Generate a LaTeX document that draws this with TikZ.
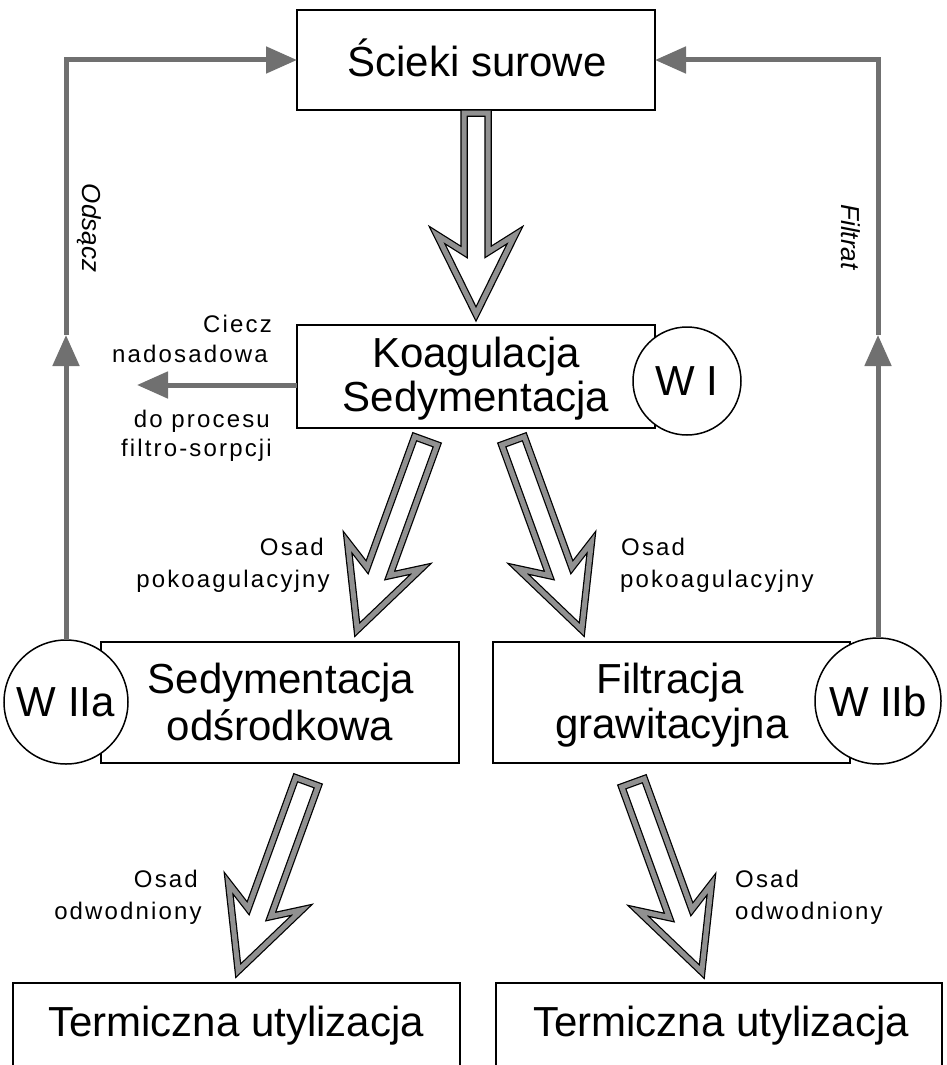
\documentclass[tikz,border=0pt]{standalone}
\usepackage{fontspec}
\setmainfont{Liberation Sans}
\newfontfamily\lblfont[LetterSpace=9]{Liberation Sans}
\usetikzlibrary{arrows.meta,calc}
\definecolor{lngray}{RGB}{112,112,112}
\definecolor{bandgray}{RGB}{145,145,145}
\begin{document}
\begin{tikzpicture}[x=1pt,y=-1pt,
  box/.style={draw=black, line width=1.8pt, fill=white, inner sep=0pt, outer sep=0pt},
  circ/.style={circle, draw=black, line width=1.5pt, fill=white, inner sep=0pt, outer sep=0pt, font=\fontsize{42}{45}\selectfont},
  big/.style={font=\fontsize{42}{45}\selectfont, inner sep=0pt},
  lbl/.style={font=\lblfont\fontsize{24}{28}\selectfont, inner sep=0pt},
  side/.style={font=\itshape\fontsize{26}{30}\selectfont, inner sep=0pt, rotate=-90},
  fb/.style={draw=lngray, line width=5pt, -{Triangle[length=31pt,width=26pt]}},
  harrow/.pic={
    \path[draw=black, line width=7.5pt, fill=white, line join=miter]
      (-12,3) -- (-12,142) -- (-39,125) -- (0,204) -- (39,125) -- (12,142) -- (12,3) -- cycle;
    \path[draw=bandgray, line width=5pt, line join=miter]
      (-12,3) -- (-12,142) -- (-39,125) -- (0,204) -- (39,125) -- (12,142) -- (12,3) -- cycle;
  }
]
\useasboundingbox (0,0) rectangle (946,1065);
\clip (0,0) rectangle (946,1065);
\fill[white] (0,0) rectangle (946,1065);

% boxes
\node[box, minimum width=358pt, minimum height=100pt] (top) at (476,60) {};
\node[box, minimum width=358pt, minimum height=103pt] (koag) at (476,376.5) {};
\node[box, minimum width=358pt, minimum height=121pt] (sed) at (280,702.5) {};
\node[box, minimum width=357pt, minimum height=121pt] (fil) at (671.5,702.5) {};
\node[box, minimum width=447pt, minimum height=200pt] (term1) at (236.5,1083) {};
\node[box, minimum width=446pt, minimum height=200pt] (term2) at (719,1083) {};

% circles
\node[circ, minimum size=108pt] (w1) at (687,381) {W I};
\node[circ, minimum size=124pt] (w2a) at (66,702) {W IIa};
\node[circ, minimum size=126pt] (w2b) at (878,701) {W IIb};

% box texts
\node[big, anchor=base] (t1) at (477,76) {Ścieki surowe};
\node[big, anchor=base] (t2) at (476,367) {Koagulacja};
\node[big, anchor=base] (t3) at (476,411) {Sedymentacja};
\node[big, anchor=base] (t4) at (281,693) {Sedymentacja};
\node[big, anchor=base] (t5) at (280,740) {odśrodkowa};
\node[big, anchor=base] (t6) at (670,693) {Filtracja};
\node[big, anchor=base] (t7) at (672,738) {grawitacyjna};
\node[big, anchor=base] (t8) at (236,1036) {Termiczna utylizacja};
\node[big, anchor=base] (t9) at (721,1036) {Termiczna utylizacja};

% feedback connectors
\coordinate (la) at (66,335);
\coordinate (ra) at (878,335);
\coordinate (ca) at (137,385);
\draw[fb] (w2a.north) -- (la);
\draw[fb] (la) |- (top.west);
\draw[fb] (w2b.north) -- (ra);
\draw[fb] (ra) |- (top.east);
\draw[fb] (ca -| koag.west) -- (ca);

% hollow arrows
\pic at (top.south) {harrow};
\pic[rotate=-20] at (427,438) {harrow};
\pic[rotate=20] at (512,438) {harrow};
\pic[rotate=-20] at (308,779) {harrow};
\pic[rotate=20] at (632,780) {harrow};

% labels
\node[lbl, anchor=base east] (l1) at (272,332) {Ciecz};
\node[lbl, anchor=base east] (l2) at (268,362) {nadosadowa};
\node[lbl, anchor=base east] (l3) at (270,427) {do procesu};
\node[lbl, anchor=base east] (l4) at (272,456) {filtro-sorpcji};
\node[lbl, anchor=base east] (l5) at (324,555) {Osad};
\node[lbl, anchor=base east] (l6) at (330,587) {pokoagulacyjny};
\node[lbl, anchor=base west] (l7) at (621,555) {Osad};
\node[lbl, anchor=base west] (l8) at (620,587) {pokoagulacyjny};
\node[lbl, anchor=base east] (l9) at (198,887) {Osad};
\node[lbl, anchor=base east] (l10) at (202,919) {odwodniony};
\node[lbl, anchor=base west] (l11) at (735,887) {Osad};
\node[lbl, anchor=base west] (l12) at (735,919) {odwodniony};
\node[side] (s1) at (89,228) {Odsącz};
\node[side] (s2) at (851,237) {Filtrat};
\end{tikzpicture}
\end{document}
